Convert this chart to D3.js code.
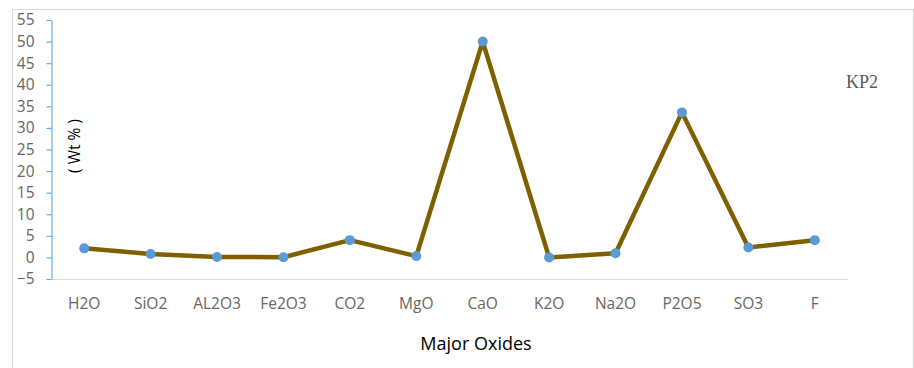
<!DOCTYPE html>
<html>
<head>
<meta charset="utf-8">
<script src="https://cdn.jsdelivr.net/npm/d3@7"></script>
<style>
  body { margin: 0; background: #fff; }
  svg { display: block; }
</style>
</head>
<body>
<svg width="914" height="368"></svg>
<script>
// oxide names along the bottom
var oxides = ["H2O", "SiO2", "AL2O3", "Fe2O3", "CO2", "MgO", "CaO", "K2O", "Na2O", "P2O5", "SO3", "F"];
// wt % for sample KP2
var wtPercent = [2.1, 0.8, 0.1, 0.05, 4.0, 0.3, 50.0, 0.0, 0.95, 33.6, 2.3, 4.0];
var yTicks = [-5, 0, 5, 10, 15, 20, 25, 30, 35, 40, 45, 50, 55];
var sampleName = "KP2";

var svg = d3.select("svg");
// plot area (note: "top" is taken by window.top, so use other names)
var plotLeft = 51, plotRight = 848, plotTop = 20, plotBottom = 279;

// chart frame (only top, left, right edges visible)
svg.append("path")
    .attr("d", "M12.5,368 V9.5 H913.5 V368")
    .attr("fill", "none")
    .attr("stroke", "#d9d9d9")
    .attr("stroke-width", 1.2);

var x = d3.scaleBand().domain(oxides).range([plotLeft, plotRight]);
var y = d3.scaleLinear().domain([-5, 55]).range([plotBottom, plotTop]);

// x axis: plain gray line at -5
svg.append("line")
    .attr("x1", plotLeft).attr("x2", plotRight)
    .attr("y1", y(-5) + 0.5).attr("y2", y(-5) + 0.5)
    .attr("stroke", "#d9d9d9")
    .attr("stroke-width", 1.2);

var yAxis = svg.append("g")
    .attr("transform", "translate(" + (plotLeft + 0.5) + ",0)")
    .call(d3.axisLeft(y).tickValues(yTicks).tickSize(5).tickPadding(12).tickSizeOuter(0));
yAxis.select(".domain").attr("stroke", "#6fa8dc").attr("stroke-width", 1.2);
yAxis.selectAll(".tick line").attr("stroke", "#6fa8dc").attr("stroke-width", 1.2);
yAxis.selectAll(".tick text")
    .attr("fill", "#666")
    .style("font-family", "'Open Sans', sans-serif")
    .style("font-size", "15.5px");

// category labels
svg.append("g").selectAll("text")
    .data(oxides)
    .enter().append("text")
    .attr("x", function(d) { return x(d) + x.bandwidth() / 2; })
    .attr("y", 309)
    .attr("text-anchor", "middle")
    .attr("fill", "#666")
    .style("font-family", "'Open Sans', sans-serif")
    .style("font-size", "15.5px")
    .text(function(d) { return d; });

var line = d3.line()
    .x(function(d, i) { return x(oxides[i]) + x.bandwidth() / 2; })
    .y(function(d) { return y(d); });

svg.append("path")
    .datum(wtPercent)
    .attr("d", line)
    .attr("fill", "none")
    .attr("stroke", "#7f6000")
    .attr("stroke-width", 4.5)
    .attr("stroke-linejoin", "round");

svg.append("g").selectAll("circle")
    .data(wtPercent)
    .enter().append("circle")
    .attr("cx", function(d, i) { return x(oxides[i]) + x.bandwidth() / 2; })
    .attr("cy", function(d) { return y(d); })
    .attr("r", 5)
    .attr("fill", "#5b9bd5");

// axis titles
svg.append("text")
    .attr("x", 476).attr("y", 350)
    .attr("text-anchor", "middle")
    .attr("fill", "#000")
    .style("font-family", "'Open Sans', sans-serif")
    .style("font-size", "18px")
    .text("Major Oxides");

svg.append("text")
    .attr("transform", "translate(80,146) rotate(-90)")
    .attr("text-anchor", "middle")
    .attr("fill", "#000")
    .style("font-family", "'Open Sans', sans-serif")
    .style("font-size", "15.5px")
    .text("( Wt % )");

svg.append("text")
    .attr("x", 862).attr("y", 88)
    .attr("text-anchor", "middle")
    .attr("fill", "#595959")
    .style("font-family", "'Liberation Serif', serif")
    .style("font-size", "18px")
    .text(sampleName);
</script>
</body>
</html>
